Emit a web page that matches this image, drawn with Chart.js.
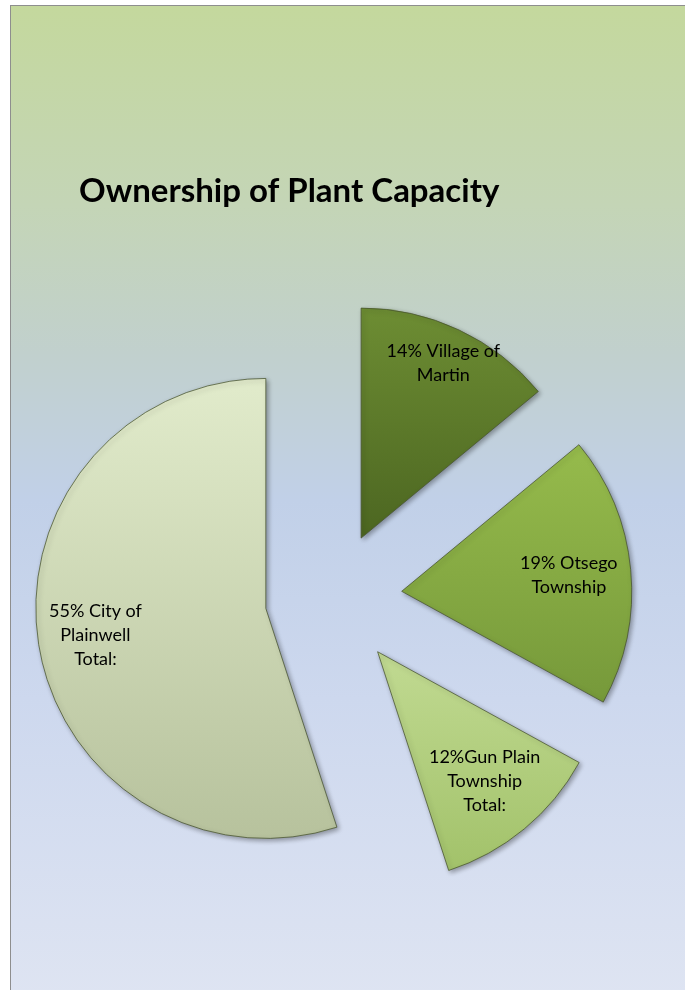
<!DOCTYPE html>
<html>
<head>
<meta charset="utf-8">
<title>Ownership of Plant Capacity</title>
<script src="https://cdn.jsdelivr.net/npm/chart.js@4.4.0/dist/chart.umd.min.js"></script>
<style>
  html, body { margin: 0; padding: 0; background: #fff; overflow: hidden; }
  #frame {
    position: absolute; left: 10px; top: 5px; width: 680px; height: 990px;
    border: 1px solid #8e8e8e;
    background: linear-gradient(to bottom, #c4d89d 0%, #c4d5b6 20%, #c1d0cd 35%, #c1d0e8 50%, #cdd8ee 70%, #dee4f2 100%);
  }
  #wrap { position: absolute; left: 0; top: 0; width: 674px; height: 984px; }
</style>
</head>
<body>
<div id="frame">
  <div id="wrap"><canvas id="ownershipChart"></canvas></div>
</div>
<script>
// Datos del gráfico
const categories = ['Village of Martin', 'Otsego Township', 'Gun Plain Township Total:', 'City of Plainwell Total:'];
const shares = [14, 19, 12, 55];
const labelLines = [
    ['14% Village of', 'Martin'],
    ['19% Otsego', 'Township'],
    ['12%Gun Plain', 'Township', 'Total:'],
    ['55% City of', 'Plainwell', 'Total:']
];

// Estilo de cada porción
const topColors = ['#6d8d33', '#96bb4c', '#c1da92', '#e1ebcb'];
const bottomColors = ['#4c6621', '#76993a', '#a2c26a', '#b7c29d'];
const explode = [66, 69, 70, 68];
const labelRadius = [0.84, 0.73, 0.73, 0.75];

// Separa las porciones, aplica degradado y sombra, y dibuja las etiquetas
const explodedPie = {
    id: 'explodedPie',
    beforeDatasetsDraw(chart) {
        const ctx = chart.ctx;
        const arcs = chart.getDatasetMeta(0).data;
        arcs.forEach((arc, i) => {
            const mid = (arc.startAngle + arc.endAngle) / 2;
            arc._baseX = arc.x;
            arc._baseY = arc.y;
            arc.x += Math.cos(mid) * explode[i];
            arc.y += Math.sin(mid) * explode[i];

            const ys = [arc.y];
            for (let a = arc.startAngle; a < arc.endAngle; a += 0.05) {
                ys.push(arc.y + Math.sin(a) * arc.outerRadius);
            }
            ys.push(arc.y + Math.sin(arc.endAngle) * arc.outerRadius);
            const grad = ctx.createLinearGradient(0, Math.min(...ys), 0, Math.max(...ys));
            grad.addColorStop(0, topColors[i]);
            grad.addColorStop(1, bottomColors[i]);
            arc.options = Object.assign({}, arc.options, { backgroundColor: grad });
        });
        ctx.save();
        ctx.shadowColor = 'rgba(0, 0, 0, 0.35)';
        ctx.shadowBlur = 5;
        ctx.shadowOffsetX = 2;
        ctx.shadowOffsetY = 2;
    },
    afterDatasetsDraw(chart) {
        const ctx = chart.ctx;
        ctx.restore();
        const arcs = chart.getDatasetMeta(0).data;

        ctx.save();
        ctx.font = '18px Lato';
        ctx.fillStyle = '#000';
        ctx.textAlign = 'center';
        ctx.textBaseline = 'middle';
        const lineH = 24;
        arcs.forEach((arc, i) => {
            const mid = (arc.startAngle + arc.endAngle) / 2;
            const r = arc.outerRadius * labelRadius[i];
            const x = arc.x + Math.cos(mid) * r;
            const y = arc.y + Math.sin(mid) * r;
            const lines = labelLines[i];
            const y0 = y - (lines.length - 1) * lineH / 2;
            lines.forEach((line, k) => ctx.fillText(line, x, y0 + k * lineH));
        });
        ctx.restore();

        arcs.forEach(arc => {
            arc.x = arc._baseX;
            arc.y = arc._baseY;
        });
    }
};

const chartCanvas = document.getElementById('ownershipChart');

new Chart(chartCanvas, {
    type: 'pie',
    data: {
        labels: categories,
        datasets: [{
            data: shares,
            backgroundColor: topColors,
            borderColor: 'rgba(70, 82, 45, 0.75)',
            borderWidth: 1,
            clip: false
        }]
    },
    options: {
        responsive: true,
        maintainAspectRatio: false,
        animation: false,
        events: [],
        radius: 230,
        layout: {
            padding: { left: 68, right: 98, top: 0, bottom: 16 }
        },
        plugins: {
            legend: { display: false },
            tooltip: { enabled: false },
            title: {
                display: true,
                text: 'Ownership of Plant Capacity',
                align: 'start',
                color: '#000',
                font: { family: 'Lato', size: 33, weight: 'bold', lineHeight: 1.2 },
                padding: { top: 166, bottom: 10 }
            }
        }
    },
    plugins: [explodedPie]
});
</script>
</body>
</html>
